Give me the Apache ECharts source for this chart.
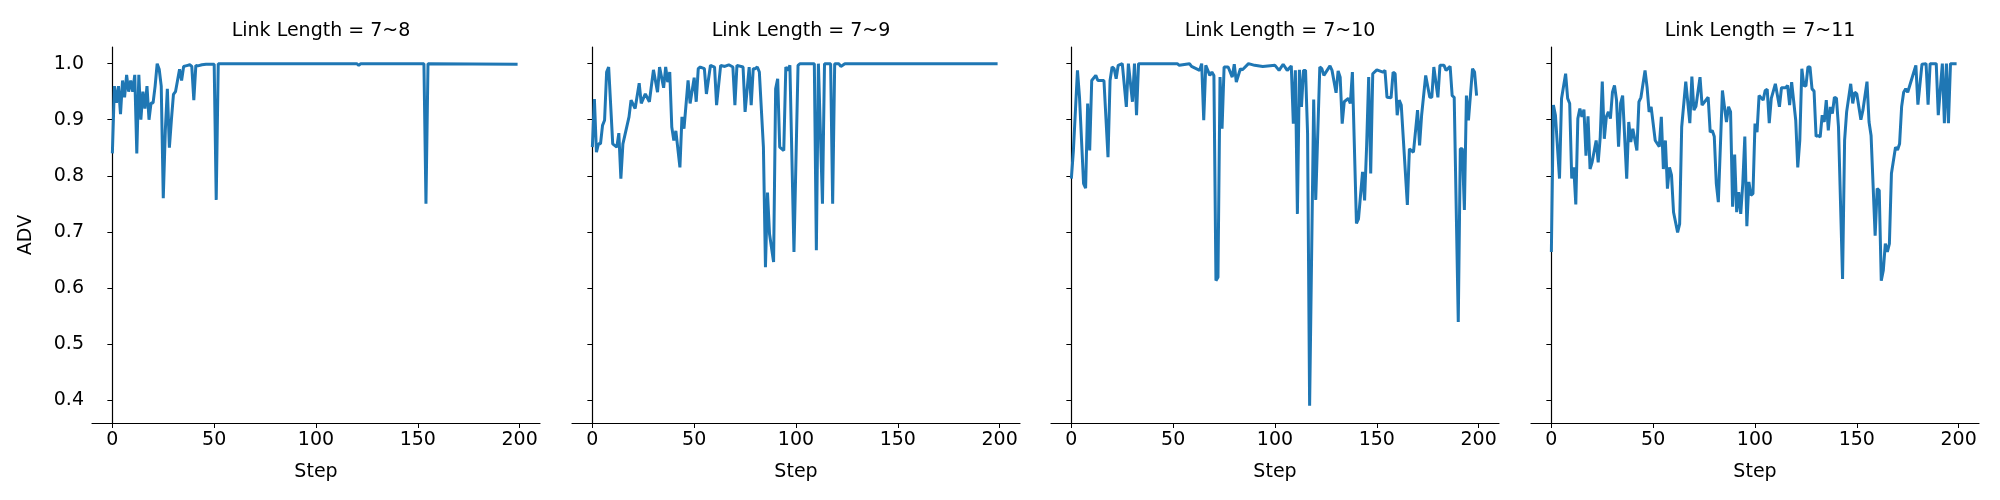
<!DOCTYPE html>
<html>
<head>
<meta charset="utf-8">
<script src="https://cdn.jsdelivr.net/npm/echarts@6/dist/echarts.min.js"></script>
<style>
  html, body { margin: 0; padding: 0; background: #fff; }
  #chart { width: 2000px; height: 500px; }
</style>
</head>
<body>
<div id="chart"></div>
<script>
var titles = ['Link Length = 7~8', 'Link Length = 7~9', 'Link Length = 7~10', 'Link Length = 7~11'];
var xTicks = [0, 50, 100, 150, 200];
var yTicks = [0.4, 0.5, 0.6, 0.7, 0.8, 0.9, 1.0];

// [step, ADV] pairs
var adv78 = [
    [0,0.84],[1,0.96],[2,0.93],[3,0.96],[4,0.91],[5,0.97],[6,0.94],[7,0.98],[8,0.95],[9,0.97],
    [10,0.95],[11,0.98],[12,0.84],[13,0.98],[14,0.90],[15,0.95],[16,0.92],[17,0.96],[18,0.90],[19,0.93],
    [20,0.93],[21,0.96],[22,1.0],[23,0.99],[24,0.96],[25,0.76],[26,0.88],[27,0.955],[28,0.85],[29,0.90],
    [30,0.945],[31,0.95],[32,0.97],[33,0.99],[34,0.97],[35,0.995],[36,0.996],[37,0.997],[38,0.998],[39,0.995],
    [40,0.935],[41,0.997],[42,0.996],[44,0.998],[46,0.999],[50,0.999],[51,0.757],[52,1.0],[120,1.0],[121,0.997],
    [122,1.0],[153,1.0],[154,0.75],[155,1.0],[199,0.999]
];
var adv79 = [
    [0,0.851],[1,0.937],[2,0.842],[3,0.857],[4,0.857],[5,0.89],[6,0.899],[7,0.985],[8,0.994],[10,0.857],
    [12,0.851],[13,0.876],[14,0.795],[15,0.857],[18,0.905],[19,0.935],[21,0.92],[23,0.965],[24,0.929],[26,0.946],
    [28,0.932],[30,0.989],[32,0.949],[33,0.994],[35,0.957],[36,0.994],[37,0.967],[38,0.985],[39,0.887],[40,0.863],
    [41,0.88],[43,0.815],[44,0.905],[45,0.884],[47,0.97],[48,0.929],[50,0.975],[51,0.932],[52,0.991],[53,0.994],
    [55,0.991],[56,0.946],[58,0.997],[60,0.994],[61,0.926],[63,0.997],[65,0.995],[67,0.998],[69,0.994],[70,0.926],
    [71,0.997],[74,0.994],[75,0.914],[77,0.994],[78,0.926],[79,0.991],[80,0.991],[81,0.994],[82,0.985],[84,0.851],
    [85,0.637],[86,0.77],[87,0.696],[89,0.646],[90,0.955],[91,0.973],[92,0.851],[94,0.845],[95,0.994],[96,0.988],
    [97,0.997],[99,0.664],[101,0.997],[102,1.0],[109,1.0],[110,0.667],[111,1.0],[113,0.75],[114,1.0],[117,1.0],
    [118,0.75],[119,1.0],[121,1.0],[122,0.995],[124,1.0],[199,1.0]
];
var adv710 = [
    [0,0.795],[1,0.845],[3,0.988],[4,0.94],[6,0.786],[7,0.778],[8,0.929],[9,0.845],[10,0.97],[12,0.979],
    [13,0.97],[16,0.97],[18,0.833],[19,0.97],[20,0.994],[21,0.991],[22,0.973],[23,0.997],[25,1.0],[27,0.923],
    [28,1.0],[30,0.932],[31,1.0],[32,0.908],[33,1.0],[52,1.0],[53,0.997],[58,1.0],[59,0.995],[63,0.988],
    [64,1.0],[65,0.899],[66,0.997],[68,0.979],[69,0.985],[70,0.979],[71,0.613],[72,0.619],[73,0.976],[74,0.884],
    [75,0.994],[77,0.994],[79,0.976],[80,0.999],[81,0.967],[83,0.991],[84,0.989],[87,1.0],[90,0.997],[94,0.995],
    [100,0.997],[102,0.988],[104,0.999],[106,0.988],[108,0.996],[109,0.893],[110,0.988],[111,0.732],[112,0.989],[113,0.923],
    [114,0.988],[115,0.988],[116,0.875],[117,0.39],[119,0.936],[120,0.757],[122,0.994],[123,0.991],[124,0.979],[127,0.996],
    [128,0.988],[130,0.948],[131,0.987],[132,0.976],[133,0.893],[134,0.932],[136,0.938],[137,0.929],[138,0.985],[140,0.715],
    [141,0.723],[143,0.807],[144,0.756],[145,0.854],[146,0.976],[147,0.804],[148,0.982],[150,0.989],[153,0.985],[154,0.988],
    [155,0.94],[157,0.939],[158,0.985],[159,0.982],[160,0.908],[161,0.935],[162,0.926],[165,0.748],[166,0.848],[168,0.842],
    [170,0.917],[171,0.854],[172,0.908],[174,0.979],[176,0.94],[177,0.94],[178,0.994],[180,0.94],[181,0.997],[183,0.997],
    [184,0.988],[186,0.995],[187,0.943],[188,0.94],[190,0.539],[191,0.848],[192,0.848],[193,0.739],[194,0.943],[195,0.899],
    [197,0.991],[198,0.985],[199,0.943]
];
var adv711 = [
    [0,0.664],[1,0.926],[2,0.908],[4,0.795],[5,0.938],[7,0.982],[8,0.938],[9,0.929],[10,0.795],[11,0.815],
    [12,0.749],[13,0.902],[14,0.92],[15,0.905],[16,0.918],[17,0.836],[18,0.906],[19,0.812],[20,0.824],[22,0.863],
    [23,0.824],[24,0.869],[25,0.968],[26,0.866],[27,0.905],[28,0.914],[29,0.902],[30,0.949],[31,0.961],[32,0.935],
    [33,0.852],[34,0.929],[35,0.943],[37,0.795],[38,0.896],[39,0.86],[40,0.884],[42,0.845],[43,0.932],[44,0.94],
    [46,0.988],[47,0.958],[48,0.914],[49,0.923],[51,0.863],[53,0.852],[54,0.905],[55,0.812],[56,0.863],[57,0.777],
    [58,0.815],[59,0.801],[60,0.735],[62,0.699],[63,0.714],[64,0.887],[66,0.968],[68,0.894],[69,0.977],[70,0.917],
    [71,0.924],[73,0.976],[74,0.926],[77,0.94],[78,0.878],[79,0.881],[80,0.87],[81,0.786],[82,0.753],[84,0.952],
    [85,0.923],[86,0.896],[87,0.923],[88,0.914],[89,0.745],[90,0.838],[91,0.735],[92,0.771],[93,0.732],[94,0.786],
    [95,0.87],[96,0.71],[97,0.789],[98,0.765],[99,0.768],[100,0.893],[101,0.878],[102,0.943],[104,0.935],[105,0.952],
    [106,0.954],[107,0.894],[108,0.938],[110,0.964],[112,0.923],[113,0.957],[115,0.957],[116,0.961],[117,0.926],[118,0.967],
    [120,0.899],[121,0.815],[122,0.863],[123,0.991],[124,0.961],[125,0.96],[126,0.994],[127,0.994],[128,0.955],[129,0.951],
    [130,0.87],[131,0.872],[132,0.869],[133,0.908],[134,0.896],[135,0.935],[136,0.881],[137,0.923],[138,0.911],[139,0.94],
    [140,0.938],[141,0.887],[143,0.616],[144,0.863],[145,0.914],[147,0.964],[148,0.929],[149,0.949],[150,0.946],[152,0.9],
    [153,0.917],[155,0.968],[156,0.896],[157,0.872],[159,0.693],[160,0.777],[161,0.774],[162,0.613],[163,0.631],[164,0.679],
    [165,0.664],[166,0.679],[167,0.804],[169,0.851],[170,0.846],[171,0.857],[172,0.923],[173,0.949],[174,0.955],[175,0.949],
    [178,0.985],[179,0.997],[180,0.927],[182,0.999],[184,1.0],[185,0.927],[186,1.0],[189,1.0],[190,0.908],[192,1.0],
    [193,0.894],[194,1.0],[195,0.894],[196,1.0],[199,1.0]
];
var allSeries = [adv78, adv79, adv710, adv711];

var lefts = [92, 572, 1051, 1531];
var font = 'DejaVu Sans';
var grids = [], xAxes = [], yAxes = [], series = [], titleOpts = [];

for (var i = 0; i < 4; i++) {
    grids.push({left: lefts[i], top: 47, width: 448, height: 376});
    titleOpts.push({
        text: titles[i], left: lefts[i] + 224, top: 17, textAlign: 'center',
        textStyle: {fontFamily: font, fontSize: 19, fontWeight: 'normal', color: '#000'}
    });
    xAxes.push({
        type: 'value', gridIndex: i, min: -10, max: 210,
        name: 'Step', nameLocation: 'middle', nameGap: 40,
        nameTextStyle: {fontFamily: font, fontSize: 19, color: '#000'},
        axisLine: {lineStyle: {color: '#000', width: 1.2}},
        axisTick: {customValues: xTicks, length: 5, lineStyle: {color: '#000'}},
        axisLabel: {customValues: xTicks, fontFamily: font, fontSize: 19, color: '#000', margin: 8},
        splitLine: {show: false}
    });
    yAxes.push({
        type: 'value', gridIndex: i, min: 0.359, max: 1.0297,
        name: i === 0 ? 'ADV' : '', nameLocation: 'middle', nameGap: 56,
        nameTextStyle: {fontFamily: font, fontSize: 19, color: '#000'},
        axisLine: {show: true, lineStyle: {color: '#000', width: 1.2}},
        axisTick: {show: true, customValues: yTicks, length: 5, lineStyle: {color: '#000'}},
        axisLabel: {
            show: i === 0, customValues: yTicks, fontFamily: font, fontSize: 19, color: '#000', margin: 8,
            formatter: function (v) { return v.toFixed(1); }
        },
        splitLine: {show: false}
    });
    series.push({
        type: 'line', xAxisIndex: i, yAxisIndex: i, data: allSeries[i],
        showSymbol: false, symbol: 'none', animation: false,
        lineStyle: {color: '#1f77b4', width: 3}
    });
}

var chart = echarts.init(document.getElementById('chart'));
chart.setOption({
    animation: false,
    title: titleOpts,
    grid: grids,
    xAxis: xAxes,
    yAxis: yAxes,
    series: series
});
</script>
</body>
</html>
